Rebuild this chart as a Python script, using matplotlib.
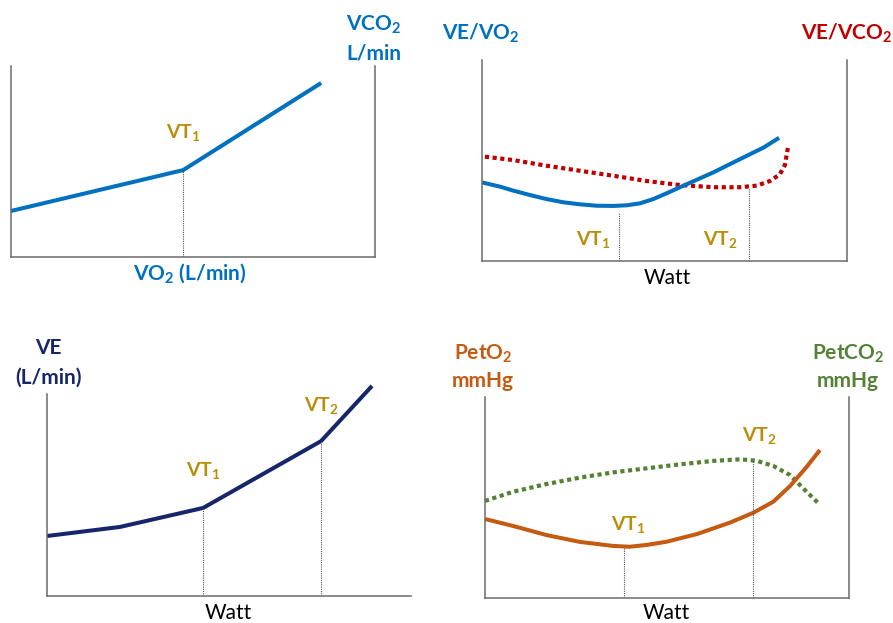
import matplotlib
matplotlib.use("Agg")
import matplotlib.pyplot as plt

plt.rcParams['font.family'] = ['Lato', 'DejaVu Sans']
plt.rcParams['mathtext.fontset'] = 'custom'
plt.rcParams['mathtext.rm'] = 'Lato'
plt.rcParams['mathtext.bf'] = 'Lato:bold'
plt.rcParams['mathtext.it'] = 'Lato:italic'

# ---------------- data (relative units 0-100) ----------------
# Panel 1: VCO2 vs VO2
p1_x = [0, 47.3, 85.2]
p1_y = [24.1, 45.5, 91.1]
p1_vt1 = 47.3

# Panel 2: VE/VO2 and VE/VCO2 vs Watt
p2_vevo2_x = [0.0, 4.9, 8.6, 13.2, 17.7, 22.3, 26.8, 31.4, 36.0, 39.6, 43.3,
              46.9, 50.6, 56.1, 63.4, 70.7, 77.1, 81.4]
p2_vevo2_y = [39.1, 37.0, 35.0, 32.8, 30.8, 29.2, 28.2, 27.5, 27.4, 27.7, 28.7,
              30.8, 33.7, 38.2, 44.1, 50.7, 56.4, 61.3]
p2_vevco2_x = [0.8, 8.6, 17.7, 26.8, 36.0, 45.1, 54.2, 63.4, 70.7, 75.3, 78.9,
               81.6, 83.0, 83.9]
p2_vevco2_y = [51.9, 50.2, 47.4, 44.9, 42.4, 39.8, 37.8, 36.7, 36.7, 37.5, 39.8,
               43.1, 47.8, 57.4]
p2_vt1, p2_vt1_top = 37.5, 23.7
p2_vt2, p2_vt2_top = 73.1, 36.2

# Panel 3: VE vs Watt
p3_x = [0, 20.1, 42.9, 75.3, 89.3]
p3_y = [29.7, 34.2, 43.6, 76.7, 104.0]
p3_vt1, p3_vt1_top = 42.9, 43.6
p3_vt2, p3_vt2_top = 75.3, 76.7

# Panel 4: PetO2 and PetCO2 vs Watt
p4_peto2_x = [0.0, 7.8, 16.9, 26.1, 35.2, 39.8, 44.4, 49.9, 58.2, 67.3, 73.7,
              79.2, 83.8, 88.4, 92.0]
p4_peto2_y = [39.3, 35.8, 31.3, 27.9, 25.9, 25.5, 26.4, 28.0, 31.8, 37.5, 42.4,
              47.9, 55.7, 65.3, 73.6]
p4_petco2_x = [0.0, 7.8, 16.9, 26.1, 35.2, 44.4, 53.6, 62.7, 70.1, 74.6, 79.2,
               83.8, 87.4, 91.6]
p4_petco2_y = [48.3, 52.9, 56.7, 59.9, 62.5, 64.5, 66.5, 68.2, 69.0, 68.3, 65.7,
               61.2, 54.6, 47.1]
p4_vt1, p4_vt1_top = 38.3, 25.0
p4_vt2, p4_vt2_top = 73.5, 68.5

# ---------------- styles ----------------
BLUE = '#0070C0'
NAVY = '#17266A'
GOLD = '#B98E0A'
RED = '#C00000'
ORANGE = '#C55A11'
GREEN = '#548235'
AXC = '#6b6b6b'
FS = 15
VTFS = 14

W, H = 893, 623
fig = plt.figure(figsize=(W / 100, H / 100), dpi=100)


def make_ax(left, bottom, width, height, right=True):
    ax = fig.add_axes([left / W, (H - bottom) / H, width / W, height / H])
    ax.set_xlim(0, 100)
    ax.set_ylim(0, 100)
    ax.set_xticks([])
    ax.set_yticks([])
    ax.patch.set_alpha(0)
    ax.spines['top'].set_visible(False)
    ax.spines['right'].set_visible(right)
    for s in ('left', 'bottom', 'right'):
        ax.spines[s].set_color(AXC)
        ax.spines[s].set_linewidth(1.1)
    return ax


def vline(ax, x, top):
    ax.plot([x, x], [0, top], color='#555555', lw=0.8, ls=(0, (1, 1)))


def txt(ax, x, y, s, color, size=FS, weight='bold'):
    ax.text(x, y, s, color=color, fontsize=size, fontweight=weight,
            ha='center', va='center', clip_on=False)


# Panel 1
ax1 = make_ax(11, 257, 364, 191)
ax1.plot(p1_x, p1_y, color=BLUE, lw=2.9, clip_on=False, solid_capstyle='butt')
vline(ax1, p1_vt1, p1_y[1])
txt(ax1, 47.3, 65.4, r'VT$_\mathbf{1}$', GOLD, VTFS)
txt(ax1, 49.2, -8.6, r'VO$_\mathbf{2}$ (L/min)', BLUE)
txt(ax1, 99.7, 121.5, r'VCO$_\mathbf{2}$', BLUE)
txt(ax1, 99.7, 106.8, 'L/min', BLUE)

# Panel 2
ax2 = make_ax(482, 261, 365, 201)
ax2.plot(p2_vevco2_x, p2_vevco2_y, color=RED, lw=3.0, ls=(0, (1, 0.85)),
         dash_capstyle='butt', clip_on=False)
ax2.plot(p2_vevo2_x, p2_vevo2_y, color=BLUE, lw=2.9, clip_on=False,
         solid_capstyle='butt', solid_joinstyle='round')
vline(ax2, p2_vt1, p2_vt1_top)
vline(ax2, p2_vt2, p2_vt2_top)
txt(ax2, 30.4, 10.6, r'VT$_\mathbf{1}$', GOLD, VTFS)
txt(ax2, 65.2, 10.6, r'VT$_\mathbf{2}$', GOLD, VTFS)
txt(ax2, 50.7, -8.5, 'Watt', 'black', FS, 'normal')
txt(ax2, -0.3, 113.4, r'VE/VO$_\mathbf{2}$', BLUE)
txt(ax2, 100.0, 113.4, r'VE/VCO$_\mathbf{2}$', RED)

# Panel 3
ax3 = make_ax(47, 596, 364, 202, right=False)
ax3.plot(p3_x, p3_y, color=NAVY, lw=2.9, clip_on=False, solid_capstyle='butt')
vline(ax3, p3_vt1, p3_vt1_top)
vline(ax3, p3_vt2, p3_vt2_top)
txt(ax3, 42.9, 61.9, r'VT$_\mathbf{1}$', GOLD, VTFS)
txt(ax3, 75.3, 94.1, r'VT$_\mathbf{2}$', GOLD, VTFS)
txt(ax3, 49.7, -8.4, 'Watt', 'black', FS, 'normal')
txt(ax3, 0.3, 122.8, 'VE', NAVY)
txt(ax3, 0.3, 107.9, '(L/min)', NAVY)

# Panel 4
ax4 = make_ax(485, 598, 364, 201)
ax4.plot(p4_petco2_x, p4_petco2_y, color=GREEN, lw=3.0, ls=(0, (1, 0.85)),
         dash_capstyle='butt', clip_on=False)
ax4.plot(p4_peto2_x, p4_peto2_y, color=ORANGE, lw=2.9, clip_on=False,
         solid_capstyle='butt', solid_joinstyle='round')
vline(ax4, p4_vt1, p4_vt1_top)
vline(ax4, p4_vt2, p4_vt2_top)
txt(ax4, 39.3, 36.8, r'VT$_\mathbf{1}$', GOLD, VTFS)
txt(ax4, 75.3, 80.6, r'VT$_\mathbf{2}$', GOLD, VTFS)
txt(ax4, 49.7, -7.5, 'Watt', 'black', FS, 'normal')
txt(ax4, -0.5, 121.4, r'PetO$_\mathbf{2}$', ORANGE)
txt(ax4, -0.5, 108.0, 'mmHg', ORANGE)
txt(ax4, 99.7, 121.4, r'PetCO$_\mathbf{2}$', GREEN)
txt(ax4, 99.7, 108.0, 'mmHg', GREEN)

fig.savefig('out.png', dpi=100)
